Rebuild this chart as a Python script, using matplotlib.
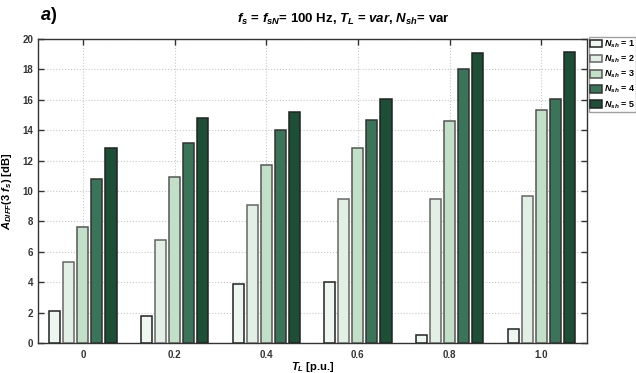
import numpy as np
import matplotlib
matplotlib.use('Agg')
import matplotlib.pyplot as plt

plt.rcParams['font.family'] = 'Liberation Sans'
plt.rcParams['mathtext.fontset'] = 'custom'
plt.rcParams['mathtext.rm'] = 'Liberation Sans:bold'
plt.rcParams['mathtext.it'] = 'Liberation Sans:bold:italic'
plt.rcParams['mathtext.bf'] = 'Liberation Sans:bold'

tl_labels = ['0', '0.2', '0.4', '0.6', '0.8', '1.0']
n_sh = [1, 2, 3, 4, 5]
adiff_n1 = [2.1, 1.75, 3.9, 4.0, 0.5, 0.95]
adiff_n2 = [5.3, 6.75, 9.05, 9.5, 9.5, 9.65]
adiff_n3 = [7.6, 10.9, 11.7, 12.8, 14.6, 15.35]
adiff_n4 = [10.8, 13.15, 14.0, 14.65, 18.0, 16.05]
adiff_n5 = [12.85, 14.8, 15.2, 16.05, 19.05, 19.15]
series = [adiff_n1, adiff_n2, adiff_n3, adiff_n4, adiff_n5]

colors = ['#eef6f0', '#e1efe4', '#c2e0c8', '#3b7559', '#1c4f36']
edges = ['#222222', '#666666', '#555555', '#333333', '#222222']

fig = plt.figure(figsize=(6.36, 3.73), dpi=100)
ax = fig.add_axes([0.0597, 0.0804, 0.8633, 0.815])

x = np.arange(len(tl_labels))
step = 0.153
width = 0.122
for i, vals in enumerate(series):
    ax.bar(x + (i - 2) * step, vals, width, color=colors[i], edgecolor=edges[i],
           linewidth=1.1, zorder=3, label=r'$N_{sh}$ = %d' % n_sh[i])

ax.set_xlim(-0.49, 5.5)
ax.set_ylim(0, 20)
ax.set_xticks(x)
ax.set_xticklabels(tl_labels)
ax.set_yticks(np.arange(0, 21, 2))
ax.grid(True, color='#c8c8c8', ls=':', lw=0.8, zorder=0)
ax.tick_params(direction='in', top=True, right=True, labelsize=7, colors='#333333',
               length=4, width=1)
ax.tick_params(axis='x', pad=5)
for lab in ax.get_xticklabels() + ax.get_yticklabels():
    lab.set_fontweight('bold')
for s in ax.spines.values():
    s.set_color('#333333')
    s.set_linewidth(1.0)

ax.set_xlabel(r'$T_L$ [p.u.]', fontsize=8, fontweight='bold', labelpad=0)
ax.set_ylabel(r'$A_{DIFF}$(3 $f_s$) [dB]', fontsize=8, fontweight='bold', labelpad=6)

fig.text(0.54, 0.947, r'$f_s$ = $f_{sN}$= 100 Hz, $T_L$ = $var$, $N_{sh}$= var',
         ha='center', va='center', fontsize=9.5, fontweight='bold')
fig.text(0.063, 0.958, r'$a)$', ha='left', va='center', fontsize=13, fontweight='bold')

leg = fig.legend(loc='upper left', bbox_to_anchor=(0.926, 0.9), fontsize=6.5,
                 frameon=True, fancybox=False, edgecolor='#888888',
                 handlelength=1.3, handleheight=0.9, handletextpad=0.2,
                 labelspacing=0.4, borderpad=0.15, borderaxespad=0)
for t in leg.get_texts():
    t.set_fontweight('bold')

fig.savefig('out.png', dpi=100)
